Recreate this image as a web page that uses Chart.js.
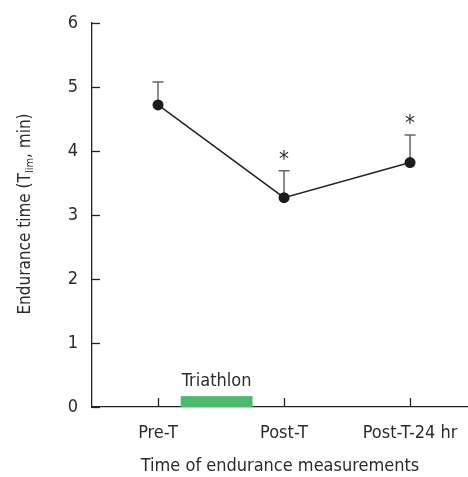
<!DOCTYPE html>
<html>
<head>
<meta charset="utf-8">
<script src="https://cdn.jsdelivr.net/npm/chart.js@4.4.0/dist/chart.umd.min.js"></script>
<style>
html, body { margin: 0; padding: 0; background: #fff; }
#wrap { width: 468px; height: 477px; position: relative; }
</style>
</head>
<body>
<div id="wrap"><canvas id="enduranceChart"></canvas></div>
<script>
//------------------------------------
// Data
//------------------------------------

const categories = ["Pre-T", "Post-T", "Post-T-24 hr"];
const enduranceMean = [4.72, 3.27, 3.82];
const enduranceSD = [0.36, 0.42, 0.43];
const significant = [false, true, true];
const yTickValues = [0, 1, 2, 3, 4, 5, 6];
const triathlonSpan = [0.18, 0.75];     // in category units
const triathlonHeight = 0.17;           // in y units

const FONT = "'Liberation Sans Narrow', 'DejaVu Sans Condensed', 'Roboto', sans-serif";
const TEXT = "#2b2b2b";
const AXIS = "#222";

//------------------------------------
// Extra drawing: error bars, stars, ticks, triathlon bar, y title
//------------------------------------

const extras = {
    id: "extras",

    beforeDatasetsDraw(chart) {
        const ctx = chart.ctx;
        const x = chart.scales.x;
        const y = chart.scales.y;

        // triathlon bar
        ctx.save();
        ctx.fillStyle = "#4cb96d";
        const bx0 = x.getPixelForValue(triathlonSpan[0]);
        const bx1 = x.getPixelForValue(triathlonSpan[1]);
        const by0 = y.getPixelForValue(triathlonHeight);
        const by1 = y.getPixelForValue(0);
        ctx.fillRect(bx0, by0, bx1 - bx0, by1 - by0);

        ctx.fillStyle = TEXT;
        ctx.font = "18px " + FONT;
        ctx.textAlign = "center";
        ctx.textBaseline = "alphabetic";
        ctx.fillText("Triathlon", (bx0 + bx1) / 2, by0 - 10);

        // error bars (upper only)
        ctx.strokeStyle = "#666";
        ctx.lineWidth = 1.5;
        for (let i = 0; i < categories.length; i++) {
            const px = x.getPixelForValue(i);
            const py = y.getPixelForValue(enduranceMean[i]);
            const pt = y.getPixelForValue(enduranceMean[i] + enduranceSD[i]);
            ctx.beginPath();
            ctx.moveTo(px, py);
            ctx.lineTo(px, pt);
            ctx.moveTo(px - 5.5, pt);
            ctx.lineTo(px + 5.5, pt);
            ctx.stroke();

            if (significant[i]) {
                ctx.fillStyle = TEXT;
                ctx.font = "22px " + FONT;
                ctx.textAlign = "center";
                ctx.textBaseline = "alphabetic";
                ctx.fillText("*", px, pt - 5);
            }
        }
        ctx.restore();
    },

    afterDraw(chart) {
        const ctx = chart.ctx;
        const x = chart.scales.x;
        const y = chart.scales.y;
        const area = chart.chartArea;

        ctx.save();
        ctx.strokeStyle = AXIS;
        ctx.lineWidth = 1.3;

        // inward y ticks
        yTickValues.forEach(function (v) {
            const py = Math.round(y.getPixelForValue(v)) + 0.5;
            ctx.beginPath();
            ctx.moveTo(area.left, py);
            ctx.lineTo(area.left + 8, py);
            ctx.stroke();
        });

        // inward x ticks
        categories.forEach(function (c, i) {
            const px = Math.round(x.getPixelForValue(i)) + 0.5;
            ctx.beginPath();
            ctx.moveTo(px, area.bottom);
            ctx.lineTo(px, area.bottom - 9);
            ctx.stroke();
        });

        // y title with subscript
        ctx.fillStyle = TEXT;
        ctx.translate(26, 214);
        ctx.rotate(-Math.PI / 2);
        ctx.textBaseline = "middle";
        ctx.textAlign = "left";
        const big = "17px " + FONT;
        const small = "11px " + FONT;
        const parts = [
            ["Endurance time (T", big, 0],
            ["lim", small, 4],
            [", min)", big, 0]
        ];
        let total = 0;
        parts.forEach(function (p) {
            ctx.font = p[1];
            total += ctx.measureText(p[0]).width;
        });
        let cx = -total / 2;
        parts.forEach(function (p) {
            ctx.font = p[1];
            ctx.fillText(p[0], cx, p[2]);
            cx += ctx.measureText(p[0]).width;
        });
        ctx.restore();
    }
};

//------------------------------------
// Chart
//------------------------------------

window.addEventListener("load", function () {

    const points = enduranceMean.map(function (v, i) {
        return { x: i, y: v };
    });

    new Chart(document.getElementById("enduranceChart"), {
        type: "line",
        data: {
            datasets: [{
                label: "Endurance time",
                data: points,
                borderColor: "#222",
                borderWidth: 1.5,
                backgroundColor: "#1c1c1c",
                pointRadius: 5.5,
                pointBackgroundColor: "#1c1c1c",
                pointBorderWidth: 0,
                fill: false,
                tension: 0
            }]
        },
        options: {
            responsive: true,
            maintainAspectRatio: false,
            animation: false,
            layout: {
                autoPadding: false,
                padding: { top: 23, right: 0, left: 0, bottom: 0 }
            },
            plugins: {
                legend: { display: false },
                tooltip: { enabled: false }
            },
            scales: {
                x: {
                    type: "linear",
                    min: -0.524,
                    max: 2.46,
                    grid: { display: false, drawTicks: false },
                    border: { display: true, color: AXIS, width: 1.3 },
                    afterBuildTicks: function (scale) {
                        scale.ticks = categories.map(function (c, i) { return { value: i }; });
                    },
                    afterFit: function (scale) { scale.height = 70; },
                    ticks: {
                        padding: 0,
                        color: TEXT,
                        font: { family: FONT, size: 18, lineHeight: 2.9 },
                        maxRotation: 0,
                        autoSkip: false,
                        callback: function (v) { return categories[v]; }
                    },
                    title: {
                        display: true,
                        text: "Time of endurance measurements",
                        color: TEXT,
                        font: { family: FONT, size: 18 },
                        padding: { top: 0, bottom: 0 }
                    }
                },
                y: {
                    min: 0,
                    max: 6,
                    grid: { display: false, drawTicks: false },
                    border: { display: true, color: AXIS, width: 1.3 },
                    afterBuildTicks: function (scale) {
                        scale.ticks = yTickValues.map(function (v) { return { value: v }; });
                    },
                    afterFit: function (scale) { scale.width = 92; },
                    ticks: {
                        padding: 14,
                        color: TEXT,
                        font: { family: FONT, size: 18, lineHeight: 1 }
                    }
                }
            }
        },
        plugins: [extras]
    });

});
</script>
</body>
</html>
